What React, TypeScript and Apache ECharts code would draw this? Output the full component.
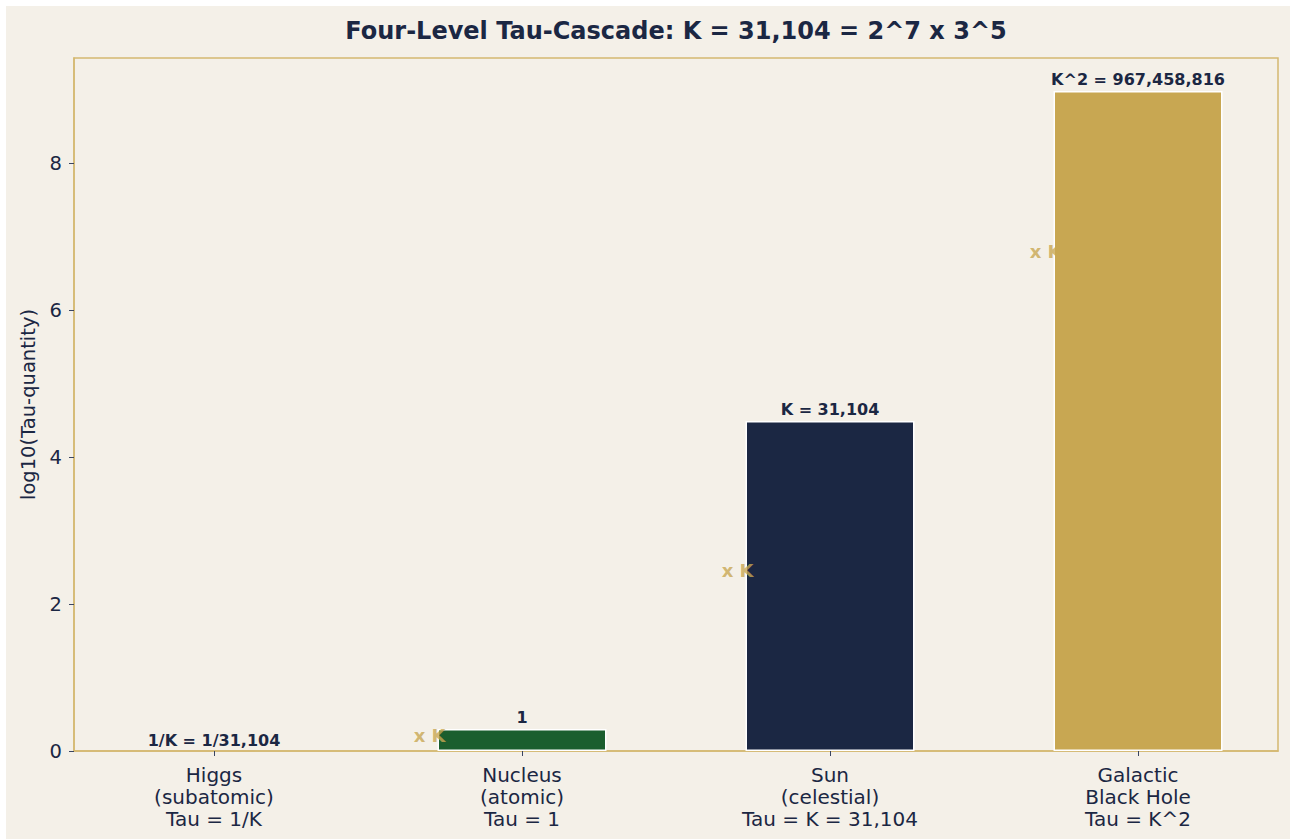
import React, { useEffect, useRef } from "react";
import * as echarts from "echarts";

// Tau-cascade levels
const categories = [
  "Higgs\n(subatomic)\nTau = 1/K",
  "Nucleus\n(atomic)\nTau = 1",
  "Sun\n(celestial)\nTau = K = 31,104",
  "Galactic\nBlack Hole\nTau = K^2",
];
// Displayed bar heights on the log10 scale
const barHeights = [0, 0.3, 4.493, 8.986];
const valueLabels = ["1/K = 1/31,104", "1", "K = 31,104", "K^2 = 967,458,816"];
const barColors = ["#1b2743", "#1b5e2e", "#1b2743", "#c8a752"];
const yTicks = [0, 2, 4, 6, 8];
const xTicks = [0, 1, 2, 3];

const NAVY = "#1b2743";
const GOLD = "#c8a752";
const BG = "#f4f0e8";
const FONT = "DejaVu Sans";

const GRID = { left: 68, right: 12, top: 52, bottom: 88 };
const WIDTH = 1284;
const HEIGHT = 833;

export default function App() {
  const ref = useRef<HTMLDivElement>(null);

  useEffect(() => {
    if (!ref.current) return;
    const chart = echarts.init(ref.current, null, { renderer: "svg" });

    // "x K" step markers sit between consecutive bars
    const stepMarks = barHeights.slice(1).map((h, i) => [i + 1 - 0.3, (barHeights[i] + h) / 2]);

    // title is centred over the plotting area
    const titleX = GRID.left + (WIDTH - GRID.left - GRID.right) / 2;

    chart.setOption({
      animation: false,
      backgroundColor: BG,
      textStyle: { fontFamily: FONT },
      graphic: [
        {
          type: "text",
          x: titleX,
          y: 25,
          style: {
            text: "Four-Level Tau-Cascade: K = 31,104 = 2^7 x 3^5",
            font: `bold 24px "${FONT}"`,
            fill: NAVY,
            textAlign: "center",
            textVerticalAlign: "middle",
          },
        },
      ],
      grid: {
        ...GRID,
        show: true,
        borderColor: "#d4b870",
        borderWidth: 1.5,
        backgroundColor: "transparent",
      },
      xAxis: {
        type: "value",
        min: -0.4545,
        max: 3.4545,
        splitLine: { show: false },
        axisLine: { show: true, onZero: false, lineStyle: { color: "#d4b870", width: 1.5 } },
        axisTick: {
          show: true,
          customValues: xTicks,
          length: 5,
          lineStyle: { color: "#3a4560", width: 1 },
        },
        axisLabel: {
          customValues: xTicks,
          formatter: (v: number) => categories[Math.round(v)] ?? "",
          fontFamily: FONT,
          fontSize: 20,
          lineHeight: 22,
          color: NAVY,
          margin: 13,
        },
      },
      yAxis: {
        type: "value",
        min: 0,
        max: 9.435,
        name: "log10(Tau-quantity)",
        nameLocation: "middle",
        nameGap: 34,
        nameTextStyle: { fontFamily: FONT, fontSize: 19.5, color: NAVY },
        splitLine: { show: false },
        axisLine: { show: true, onZero: false, lineStyle: { color: "#d4b870", width: 1.5 } },
        axisTick: {
          show: true,
          customValues: yTicks,
          length: 5,
          lineStyle: { color: "#3a4560", width: 1 },
        },
        axisLabel: {
          customValues: yTicks,
          fontFamily: FONT,
          fontSize: 19.5,
          color: NAVY,
          margin: 12,
        },
      },
      series: [
        {
          type: "bar",
          barWidth: 169,
          data: barHeights.map((h, i) => ({
            value: [i, h],
            itemStyle: {
              color: barColors[i],
              borderColor: "#ffffff",
              borderWidth: h > 0 ? 1.5 : 0,
            },
          })),
          label: {
            show: true,
            position: "top",
            distance: 3,
            formatter: (p: any) => valueLabels[p.dataIndex],
            fontFamily: FONT,
            fontSize: 16,
            fontWeight: "bold",
            color: NAVY,
          },
        },
        {
          type: "scatter",
          symbolSize: 0,
          data: stepMarks,
          z: 5,
          label: {
            show: true,
            position: "inside",
            offset: [0, -4],
            formatter: "x K",
            fontFamily: FONT,
            fontSize: 18,
            fontWeight: "bold",
            color: GOLD,
          },
        },
      ],
    });

    return () => chart.dispose();
  }, []);

  return (
    <div
      ref={ref}
      style={{ position: "absolute", left: 6, top: 6, width: WIDTH, height: HEIGHT }}
    />
  );
}
